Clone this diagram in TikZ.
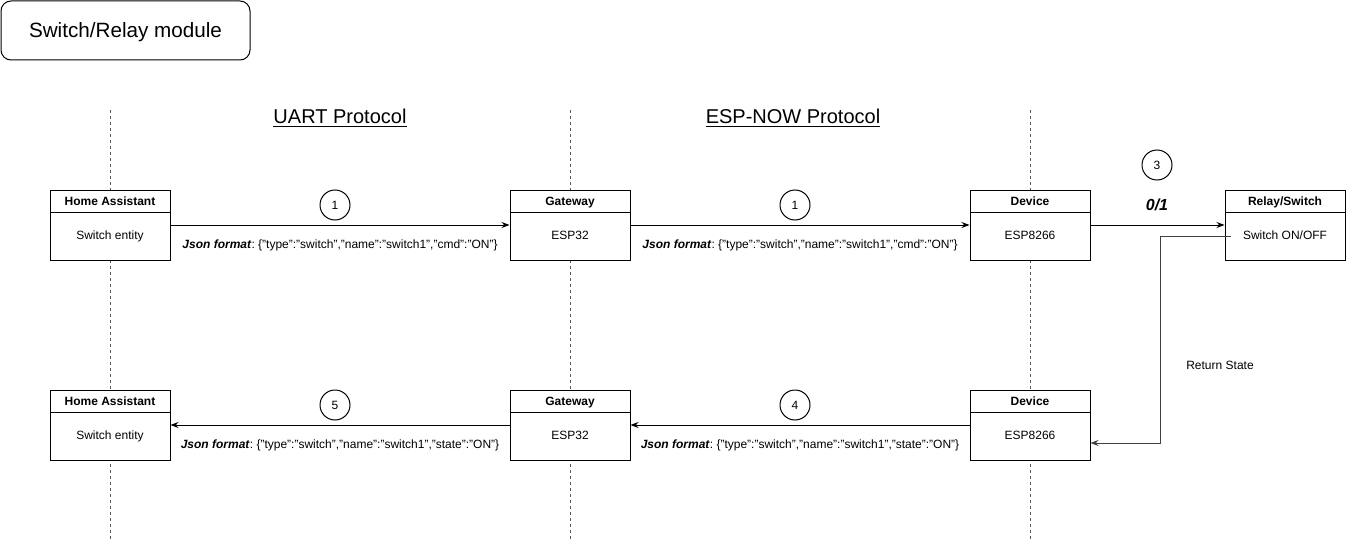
\documentclass[tikz,border=0pt]{standalone}
\usepackage{fontspec}
\setmainfont{Liberation Sans}
\usetikzlibrary{arrows.meta,calc}
\frenchspacing
\tikzset{
  px/.style={x=0.75pt,y=-0.75pt},
  lifeline/.style={draw=black!65,line width=0.75pt,dash pattern=on 2.25pt off 2.25pt},
  seqbox/.style={draw,line width=0.75pt,fill=white,minimum width=90pt,minimum height=52.5pt,inner sep=0pt},
  headtxt/.style={font=\fontsize{9}{11}\selectfont\bfseries,inner sep=0pt,text height=6.6pt,text depth=1.9pt},
  bodytxt/.style={font=\fontsize{9}{11}\selectfont,inner sep=0pt,text height=6.6pt,text depth=1.9pt},
  msg/.style={draw,line width=0.75pt,-{Stealth[length=6pt,width=4.5pt]}},
  step num/.style={draw,circle,line width=0.75pt,minimum size=22.5pt,inner sep=0pt,font=\fontsize{9}{11}\selectfont},
  jsontxt/.style={font=\fontsize{9}{11}\selectfont,inner sep=0pt,text height=6.6pt,text depth=1.9pt},
  prototxt/.style={font=\fontsize{15}{18}\selectfont,inner sep=0pt},
}
\newcommand{\seqboxdraw}[5]{%
  \node[seqbox] (#1) at (#2,#3) {};
  \draw[line width=0.75pt] ($(#1.north west)+(0,-17.25pt)$) -- ($(#1.north east)+(0,-17.25pt)$);
  \node[headtxt] (#1-h) at ($(#1.north)+(0,-9.6pt)$) {#4};
  \node[bodytxt] (#1-b) at ($(#1.center)+(0,-8.2pt)$) {#5};
}
\begin{document}
\begin{tikzpicture}[px]
\useasboundingbox (0,0) rectangle (1346,542);
% title
\node[draw,line width=0.75pt,rounded corners=7.5pt,minimum width=186.75pt,minimum height=44.25pt,font=\fontsize{15.5}{18}\selectfont,text height=11.5pt,text depth=1pt] (title) at (125.5,30.5) {Switch/Relay module};
% protocol labels
\node[prototxt] (uart) at (340,118) {\underline{UART Protocol}};
\node[prototxt] (espnow) at (793,118) {\underline{ESP-NOW Protocol}};
% lifelines
\coordinate (l1t) at (110,110); \coordinate (l1b) at (110,541);
\coordinate (l2t) at (570,110); \coordinate (l2b) at (570,541);
\coordinate (l3t) at (1030,110); \coordinate (l3b) at (1030,541);
\draw[lifeline] (l1t) -- (l1b);
\draw[lifeline] (l2t) -- (l2b);
\draw[lifeline] (l3t) -- (l3b);
% boxes top
\seqboxdraw{ha1}{110}{225}{Home Assistant}{Switch entity}
\seqboxdraw{gw1}{570}{225}{Gateway}{ESP32}
\seqboxdraw{dev1}{1030}{225}{Device}{ESP8266}
\seqboxdraw{relay}{1285}{225}{Relay/Switch}{Switch ON/OFF}
% boxes bottom
\seqboxdraw{ha2}{110}{425}{Home Assistant}{Switch entity}
\seqboxdraw{gw2}{570}{425}{Gateway}{ESP32}
\seqboxdraw{dev2}{1030}{425}{Device}{ESP8266}
% messages top
\draw[msg] (ha1.east) -- (gw1.west);
\node[step num] (s1a) at (335,205) {1};
\node[jsontxt] (j1) at (340,245.5) {\textbf{\textit{Json format}}: \{"type":"switch","name":"switch1","cmd":"ON"\}};
\draw[msg] (gw1.east) -- (dev1.west);
\node[step num] (s1b) at (795,205) {1};
\node[jsontxt] (j2) at (800,245.5) {\textbf{\textit{Json format}}: \{"type":"switch","name":"switch1","cmd":"ON"\}};
\draw[msg] (dev1.east) -- (relay.west);
\node[step num] (s3) at (1157,165) {3};
\node[font=\fontsize{12}{14}\selectfont\bfseries\itshape,inner sep=0pt] (v01) at (1157,205) {0/1};
% return state
\coordinate (rs) at (1231,236);
\coordinate (rc1) at (1160,236);
\coordinate (rc2) at (1160,443);
\draw[msg,draw=black!75] (rs) -- (rc1) -- (rc2) -- (rc2 -| dev2.east);
\node[bodytxt] (retlbl) at (1220,366) {Return State};
% messages bottom
\draw[msg] (dev2.west) -- (gw2.east);
\node[step num] (s4) at (795,405) {4};
\node[jsontxt] (j4) at (800,445.5) {\textbf{\textit{Json format}}: \{"type":"switch","name":"switch1","state":"ON"\}};
\draw[msg] (gw2.west) -- (ha2.east);
\node[step num] (s5) at (335,405) {5};
\node[jsontxt] (j5) at (340,445.5) {\textbf{\textit{Json format}}: \{"type":"switch","name":"switch1","state":"ON"\}};
\end{tikzpicture}
\end{document}
